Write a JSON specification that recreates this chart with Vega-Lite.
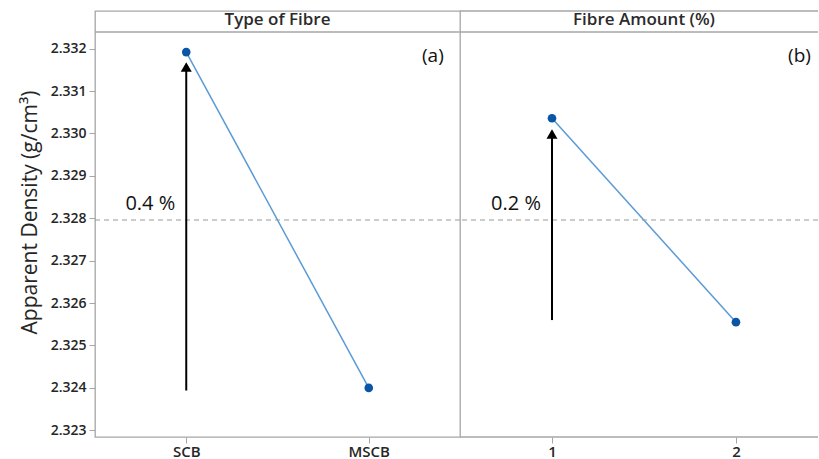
{
  "$schema": "https://vega.github.io/schema/vega-lite/v6.json",
  "background": "white",
  "padding": {"left": 18, "top": 10, "right": 0, "bottom": 0},
  "bounds": "flush",
  "config": {
    "font": "Open Sans",
    "view": {"stroke": "#a6a6a6", "strokeWidth": 1.3},
    "axis": {"grid": false, "domain": false, "tickColor": "#a6a6a6", "tickSize": 6, "labelFontSize": 14, "labelFontWeight": 600, "labelColor": "#262626", "labelPadding": 3}
  },
  "datasets": {
    "a": [{"fibre": "SCB", "density": 2.33192}, {"fibre": "MSCB", "density": 2.32400}],
    "b": [{"amount": 1, "density": 2.33036}, {"amount": 2, "density": 2.32555}],
    "one": [{"k": 1}]
  },
  "spacing": 0,
  "hconcat": [
    {
      "width": 365,
      "height": 426,
      "layer": [
        {"data": {"name": "a"}, "mark": {"type": "line", "color": "#5b9bd5", "strokeWidth": 1.5},
         "encoding": {
          "x": {"field": "fibre", "type": "nominal", "sort": null, "scale": {"type": "point", "padding": 0.5, "domain": ["SCB", "MSCB"]}, "axis": {"title": null, "labelAngle": 0, "labelFontSize": 15, "labelPadding": 1}},
          "y": {"field": "density", "type": "quantitative", "scale": {"domain": [2.322842, 2.332889], "nice": false, "zero": false}, "axis": {"title": "Apparent Density (g/cm³)", "titleFontSize": 21, "titleFontWeight": "normal", "titleColor": "#262626", "titlePadding": 10, "titleY": 201, "values": [2.323, 2.324, 2.325, 2.326, 2.327, 2.328, 2.329, 2.33, 2.331, 2.332], "format": ".3f"}}
         }},
        {"data": {"name": "a"}, "mark": {"type": "point", "filled": true, "color": "#0b55a6", "size": 75, "opacity": 1},
         "encoding": {"x": {"field": "fibre", "type": "nominal"}, "y": {"field": "density", "type": "quantitative"}}},
        {"data": {"name": "one"}, "mark": {"type": "rule", "color": "#a6a6a6", "strokeWidth": 1.3}, "encoding": {"y": {"datum": 2.332394, "type": "quantitative"}}},
        {"data": {"name": "one"}, "mark": {"type": "text", "fontSize": 17, "fontWeight": 600, "color": "#2b2b2b", "baseline": "middle"}, "encoding": {"y": {"datum": 2.332665, "type": "quantitative"}, "text": {"value": "Type of Fibre"}}},
        {"data": {"name": "one"}, "mark": {"type": "rule", "color": "#9a9a9a", "strokeWidth": 1, "strokeDash": [5, 4]}, "encoding": {"y": {"datum": 2.32796, "type": "quantitative"}}},
        {"data": {"name": "one"}, "mark": {"type": "rule", "color": "black", "strokeWidth": 2}, "encoding": {"x": {"datum": "SCB", "type": "nominal"}, "y": {"datum": 2.32394, "type": "quantitative"}, "y2": {"datum": 2.3315}}},
        {"data": {"name": "one"}, "mark": {"type": "point", "shape": "triangle-up", "filled": true, "color": "black", "size": 121, "opacity": 1}, "encoding": {"x": {"datum": "SCB", "type": "nominal"}, "y": {"datum": 2.33157, "type": "quantitative"}}},
        {"data": {"name": "one"}, "mark": {"type": "text", "align": "right", "baseline": "middle", "dx": -11, "fontSize": 20, "color": "#111111"}, "encoding": {"x": {"datum": "SCB", "type": "nominal"}, "y": {"datum": 2.32833, "type": "quantitative"}, "text": {"value": "0.4 %"}}},
        {"data": {"name": "one"}, "mark": {"type": "text", "align": "right", "baseline": "middle", "dx": 75, "fontSize": 19, "color": "#111111"}, "encoding": {"x": {"datum": "MSCB", "type": "nominal"}, "y": {"datum": 2.33183, "type": "quantitative"}, "text": {"value": "(a)"}}}
      ]
    },
    {
      "width": 358,
      "height": 426,
      "view": {"stroke": null},
      "layer": [
        {"data": {"name": "b"}, "mark": {"type": "line", "color": "#5b9bd5", "strokeWidth": 1.5},
         "encoding": {
          "x": {"field": "amount", "type": "quantitative", "scale": {"domain": [0.5, 2.446], "nice": false, "zero": false}, "axis": {"title": null, "labelAngle": 0, "labelFontSize": 15, "labelPadding": 1, "values": [1, 2], "format": "d"}},
          "y": {"field": "density", "type": "quantitative", "scale": {"domain": [2.322842, 2.332889], "nice": false, "zero": false}, "axis": null}
         }},
        {"data": {"name": "b"}, "mark": {"type": "point", "filled": true, "color": "#0b55a6", "size": 75, "opacity": 1},
         "encoding": {"x": {"field": "amount", "type": "quantitative"}, "y": {"field": "density", "type": "quantitative"}}},
        {"data": {"name": "one"}, "mark": {"type": "rule", "color": "#a6a6a6", "strokeWidth": 1.3}, "encoding": {"y": {"datum": 2.332889, "type": "quantitative"}}},
        {"data": {"name": "one"}, "mark": {"type": "rule", "color": "#a6a6a6", "strokeWidth": 1.3}, "encoding": {"y": {"datum": 2.322842, "type": "quantitative"}}},
        {"data": {"name": "one"}, "mark": {"type": "rule", "color": "#a6a6a6", "strokeWidth": 1.3}, "encoding": {"y": {"datum": 2.332394, "type": "quantitative"}}},
        {"data": {"name": "one"}, "mark": {"type": "text", "fontSize": 17, "fontWeight": 600, "color": "#2b2b2b", "baseline": "middle", "dx": 5}, "encoding": {"y": {"datum": 2.332665, "type": "quantitative"}, "text": {"value": "Fibre Amount (%)"}}},
        {"data": {"name": "one"}, "mark": {"type": "rule", "color": "#9a9a9a", "strokeWidth": 1, "strokeDash": [5, 4]}, "encoding": {"y": {"datum": 2.32796, "type": "quantitative"}}},
        {"data": {"name": "one"}, "mark": {"type": "rule", "color": "black", "strokeWidth": 2}, "encoding": {"x": {"datum": 1, "type": "quantitative"}, "y": {"datum": 2.3256, "type": "quantitative"}, "y2": {"datum": 2.32992}}},
        {"data": {"name": "one"}, "mark": {"type": "point", "shape": "triangle-up", "filled": true, "color": "black", "size": 121, "opacity": 1}, "encoding": {"x": {"datum": 1, "type": "quantitative"}, "y": {"datum": 2.32999, "type": "quantitative"}}},
        {"data": {"name": "one"}, "mark": {"type": "text", "align": "right", "baseline": "middle", "dx": -11, "fontSize": 20, "color": "#111111"}, "encoding": {"x": {"datum": 1, "type": "quantitative"}, "y": {"datum": 2.32833, "type": "quantitative"}, "text": {"value": "0.2 %"}}},
        {"data": {"name": "one"}, "mark": {"type": "text", "align": "right", "baseline": "middle", "dx": 75, "fontSize": 19, "color": "#111111"}, "encoding": {"x": {"datum": 2, "type": "quantitative"}, "y": {"datum": 2.33183, "type": "quantitative"}, "text": {"value": "(b)"}}}
      ]
    }
  ]
}
